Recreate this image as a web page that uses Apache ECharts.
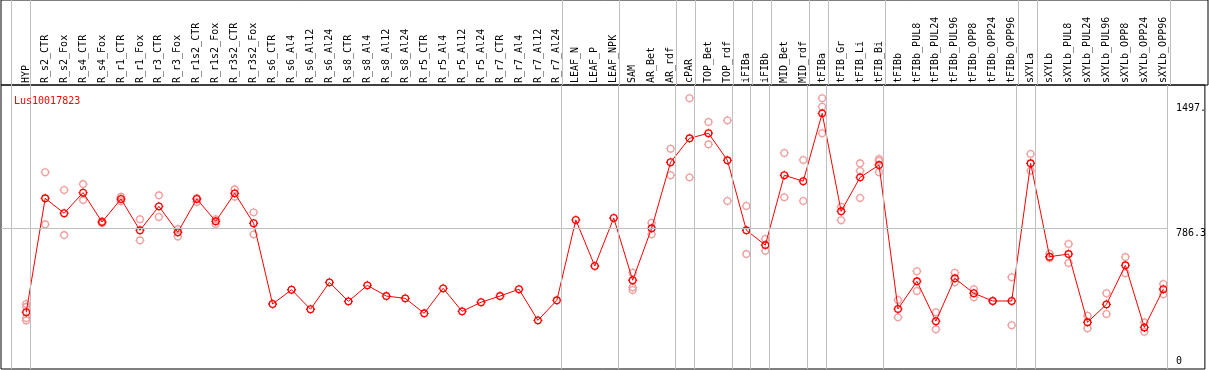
<!DOCTYPE html>
<html>
<head>
<meta charset="utf-8">
<script src="https://cdn.jsdelivr.net/npm/echarts@6/dist/echarts.min.js"></script>
<style>
html,body{margin:0;padding:0;background:#fff;}
#chart{width:1209px;height:370px;}
</style>
</head>
<body>
<div id="chart"></div>
<script>
// ---------------- data ----------------
const geneName = 'Lus10017823';

const categories = [
  'HYP','R_s2_CTR','R_s2_Fox','R_s4_CTR','R_s4_Fox','R_r1_CTR','R_r1_Fox','R_r3_CTR','R_r3_Fox',
  'R_r1s2_CTR','R_r1s2_Fox','R_r3s2_CTR','R_r3s2_Fox',
  'R_s6_CTR','R_s6_Al4','R_s6_Al12','R_s6_Al24','R_s8_CTR','R_s8_Al4','R_s8_Al12','R_s8_Al24',
  'R_r5_CTR','R_r5_Al4','R_r5_Al12','R_r5_Al24','R_r7_CTR','R_r7_Al4','R_r7_Al12','R_r7_Al24',
  'LEAF_N','LEAF_P','LEAF_NPK','SAM','AR_Bet','AR_rdf','cPAR','TOP_Bet','TOP_rdf',
  'iFIBa','iFIBb','MID_Bet','MID_rdf','tFIBa','tFIB_Gr','tFIB_Li','tFIB_Bi',
  'tFIBb','tFIBb_PUL8','tFIBb_PUL24','tFIBb_PUL96','tFIBb_OPP8','tFIBb_OPP24','tFIBb_OPP96',
  'sXYLa','sXYLb','sXYLb_PUL8','sXYLb_PUL24','sXYLb_PUL96','sXYLb_OPP8','sXYLb_OPP24','sXYLb_OPP96'
];

const meanValues = [
  309, 957, 872, 989, 822, 953, 775, 911, 764,
  953, 826, 985, 815,
  356, 437, 326, 479, 371, 462, 401, 388,
  303, 445, 314, 366, 401, 440, 263, 377,
  834, 572, 845, 491, 786.3, 1162, 1298, 1327, 1173,
  775, 691, 1088, 1054, 1440, 883, 1076, 1146,
  328, 485, 258, 502, 417, 373, 373,
  1156, 625, 640, 252, 354, 576, 223, 440
];

const replicateValues = [
  [356, 340, 276, 262],
  [1105, 809], [1004, 748], [1038, 947], [826, 816], [966, 940], [838, 718], [974, 851], [782, 739],
  [959, 936], [838, 811], [1008, 966], [877, 752],
  [], [], [], [], [], [], [], [],
  [], [], [], [], [], [], [], [],
  [], [], [], [534, 451, 436], [818, 752], [1239, 1088], [1526, 1076], [1391, 1264], [1400, 942],
  [913, 640], [726, 659], [1215, 963], [1175, 942], [1526, 1478, 1327], [909, 832], [1156, 1112, 959], [1180, 1169, 1105],
  [379, 280], [542, 430], [309, 212], [534, 479], [440, 394], [373], [508, 235],
  [1209, 1114], [642, 617], [697, 589], [289, 218], [417, 299], [623, 531], [252, 198], [470, 411]
];

// group separators drawn after these category indices
const separatorsAfter = [-1, 0, 28, 31, 34, 35, 37, 38, 39, 41, 42, 45, 52, 53, 60];

const referenceValue = 786.3;
const yTickValuesTop = [786.3, 1497];
const yTickLabelsTop = ['786.3', '1497.'];
const yTickValuesBottom = [0];
const yTickLabelsBottom = ['0'];

// ---------------- layout helpers ----------------
const FIRST_X = 26.3, STEP = 19, GRID_L = 1, GRID_R = 1208;
const X_MIN = (GRID_L - FIRST_X) / STEP;
const X_MAX = (GRID_R - FIRST_X) / STEP;
const SEP_OFFSET = 0.226;
const Y_MIN = -13.65, Y_MAX = 1601.1;
const FONT = 'DejaVu Sans Mono';

const markerPath = 'path://M4.5,0 L4.5,1.2 M4.5,7.8 L4.5,9 M0,4.5 L1.2,4.5 M7.8,4.5 L9,4.5 M7.8,4.5 A3.3,3.3 0 1 1 1.2,4.5 A3.3,3.3 0 1 1 7.8,4.5 Z';

const meanData = meanValues.map((v, i) => [i, v]);
const repData = [];
replicateValues.forEach((list, i) => list.forEach(v => repData.push([i, v])));
const sepLines = separatorsAfter.map(s => ({ xAxis: s + SEP_OFFSET }));
const lastSep = separatorsAfter[separatorsAfter.length - 1] + SEP_OFFSET;

const chart = echarts.init(document.getElementById('chart'), null, { renderer: 'canvas' });
chart.setOption({
  animation: false,
  backgroundColor: '#fff',
  title: {
    text: geneName, left: 9, top: 91,
    textStyle: { color: '#ff0000', fontSize: 10, fontFamily: FONT, fontWeight: 'normal' }
  },
  grid: [
    { left: GRID_L, right: 1209 - GRID_R, top: 85, bottom: 1, show: true, borderColor: '#000', borderWidth: 1, backgroundColor: 'transparent' },
    { left: GRID_L, right: 1209 - GRID_R, top: 0, height: 85, show: true, borderColor: '#000', borderWidth: 1, backgroundColor: 'transparent' }
  ],
  xAxis: [
    {
      gridIndex: 0, type: 'value', min: X_MIN, max: X_MAX, position: 'top',
      axisLine: { show: false }, axisTick: { show: false }, splitLine: { show: false },
      axisLabel: {
        customValues: categories.map((c, i) => i),
        formatter: v => categories[Math.round(v)] || '',
        rotate: 90, margin: 2, fontSize: 10, fontFamily: FONT, color: '#000'
      }
    },
    { gridIndex: 1, type: 'value', min: X_MIN, max: X_MAX, show: false }
  ],
  yAxis: [
    {
      gridIndex: 0, type: 'value', min: Y_MIN, max: Y_MAX, position: 'right', offset: -37,
      axisLine: { show: false }, axisTick: { show: false }, splitLine: { show: false },
      axisLabel: {
        customValues: yTickValuesTop,
        formatter: v => yTickLabelsTop[yTickValuesTop.indexOf(v)] ?? '',
        verticalAlign: 'top', align: 'left', margin: 8, fontSize: 10, fontFamily: FONT, color: '#000'
      }
    },
    {
      gridIndex: 0, type: 'value', min: Y_MIN, max: Y_MAX, position: 'right', offset: -37,
      axisLine: { show: false }, axisTick: { show: false }, splitLine: { show: false },
      axisLabel: {
        customValues: yTickValuesBottom,
        formatter: v => yTickLabelsBottom[yTickValuesBottom.indexOf(v)] ?? '',
        verticalAlign: 'bottom', align: 'left', margin: 8, fontSize: 10, fontFamily: FONT, color: '#000'
      }
    },
    { gridIndex: 1, type: 'value', min: 0, max: 1, show: false }
  ],
  series: [
    {
      type: 'line', xAxisIndex: 1, yAxisIndex: 2, data: [], silent: true, z: 1,
      markLine: {
        silent: true, symbol: 'none', label: { show: false },
        lineStyle: { color: '#c0c0c0', width: 1, type: 'solid' },
        data: sepLines
      }
    },
    {
      type: 'scatter', xAxisIndex: 0, yAxisIndex: 0, data: repData, silent: true, z: 2,
      symbol: markerPath, symbolSize: 9,
      itemStyle: { color: 'rgba(0,0,0,0)', borderColor: '#f0a0a0', borderWidth: 1.3, opacity: 1 },
      markLine: {
        silent: true, symbol: 'none', label: { show: false },
        lineStyle: { color: '#c0c0c0', width: 1, type: 'solid' },
        data: sepLines.concat([[{ coord: [X_MIN, referenceValue] }, { coord: [lastSep, referenceValue] }]])
      }
    },
    {
      type: 'line', xAxisIndex: 0, yAxisIndex: 0, data: meanData, silent: true, z: 3,
      symbol: markerPath, symbolSize: 9, showAllSymbol: true,
      lineStyle: { color: '#ff0000', width: 1 },
      itemStyle: { color: 'rgba(0,0,0,0)', borderColor: '#ff0000', borderWidth: 1.3 }
    }
  ]
});
</script>
</body>
</html>
